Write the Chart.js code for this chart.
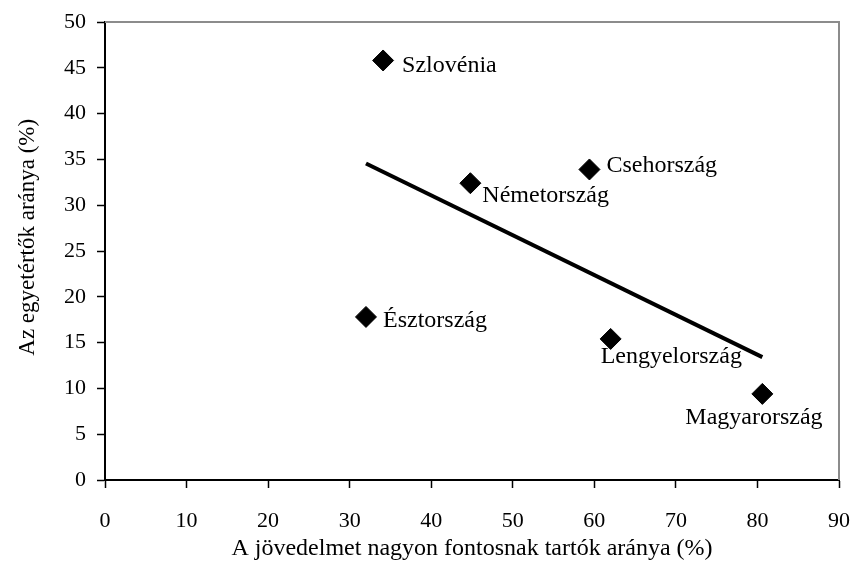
<!DOCTYPE html>
<html>
<head>
<meta charset="utf-8">
<title>Jövedelem és egyetértés</title>
<script src="https://cdn.jsdelivr.net/npm/chart.js@4/dist/chart.umd.min.js"></script>
<style>
  body { margin: 0; background: #fff; }
  #wrap { width: 853px; height: 576px; }
</style>
</head>
<body>
<div id="wrap"><canvas id="scatterChart" width="853" height="576"></canvas></div>
<script>
// Országok és értékek
const orszagok = ["Szlovénia", "Csehország", "Németország", "Észtország", "Lengyelország", "Magyarország"];
const jovedelemFontos = [34.1, 59.4, 44.8, 32.0, 62.0, 80.6];
const egyetertok = [45.8, 33.9, 32.4, 17.8, 15.4, 9.4];

// Tengelycímek
const xCim = "A jövedelmet nagyon fontosnak tartók aránya (%)";
const yCim = "Az egyetértők aránya (%)";

// Címkék eltolása a ponthoz képest (csak stílus)
const cimkeEltolas = [[19, 5], [17, -4], [12, 12], [17, 4], [-10, 18], [-77, 24]];

// Lineáris trendvonal a legkisebb és legnagyobb x között
function trendvonal(xs, ys) {
  const n = xs.length;
  const mx = xs.reduce((a, b) => a + b, 0) / n;
  const my = ys.reduce((a, b) => a + b, 0) / n;
  let sxy = 0, sxx = 0;
  for (let i = 0; i < n; i++) {
    sxy += (xs[i] - mx) * (ys[i] - my);
    sxx += (xs[i] - mx) * (xs[i] - mx);
  }
  const m = sxy / sxx;
  const b = my - m * mx;
  const x0 = Math.min(...xs), x1 = Math.max(...xs);
  return [{ x: x0, y: m * x0 + b }, { x: x1, y: m * x1 + b }];
}

const csalad = "'Liberation Serif', 'Times New Roman', serif";
const betu = { family: csalad, size: 24 };
const tickBetu = { family: csalad, size: 22 };

// Keret a rajzterület tetején és jobb oldalán
const keretPlugin = {
  id: "keret",
  beforeDatasetsDraw(chart) {
    const { ctx, chartArea: a } = chart;
    ctx.save();
    ctx.strokeStyle = "#8c8c8c";
    ctx.lineWidth = 2;
    ctx.beginPath();
    ctx.moveTo(a.left, a.top);
    ctx.lineTo(a.right, a.top);
    ctx.lineTo(a.right, a.bottom);
    ctx.stroke();
    ctx.restore();
  },
};

// Országnevek a pontok mellé, függőleges tengelycím
const cimkePlugin = {
  id: "cimkek",
  afterDatasetsDraw(chart) {
    const { ctx } = chart;
    const meta = chart.getDatasetMeta(0);
    ctx.save();
    ctx.font = betu.size + "px " + betu.family;
    ctx.fillStyle = "#000";
    ctx.textAlign = "left";
    ctx.textBaseline = "middle";
    meta.data.forEach((pont, i) => {
      const [dx, dy] = cimkeEltolas[i];
      ctx.fillText(orszagok[i], pont.x + dx, pont.y + dy);
    });
    // y tengely címe (kicsit a közép fölött, mint az eredetin)
    ctx.font = "23px " + csalad;
    ctx.textAlign = "center";
    ctx.translate(28, chart.chartArea.top + (chart.chartArea.bottom - chart.chartArea.top) * 0.47);
    ctx.rotate(-Math.PI / 2);
    ctx.fillText(yCim, 0, 0);
    ctx.restore();
  },
};

const ctx = document.getElementById("scatterChart").getContext("2d");

const chart = new Chart(ctx, {
  type: "scatter",
  data: {
    datasets: [
      {
        label: "Országok",
        data: jovedelemFontos.map((x, i) => ({ x: x, y: egyetertok[i] })),
        pointStyle: "rectRot",
        pointRadius: 10.5,
        backgroundColor: "#000",
        borderColor: "#000",
        borderWidth: 1,
      },
      {
        label: "Trend",
        data: trendvonal(jovedelemFontos, egyetertok),
        showLine: true,
        borderColor: "#000",
        borderWidth: 4,
        pointRadius: 0,
      },
    ],
  },
  options: {
    responsive: false,
    animation: false,
    layout: { padding: { top: 22, right: 14, left: 0, bottom: 0 } },
    plugins: {
      legend: { display: false },
      tooltip: { enabled: false },
    },
    scales: {
      x: {
        type: "linear",
        min: 0,
        max: 90,
        ticks: { stepSize: 10, color: "#000", font: tickBetu, padding: 20, maxRotation: 0 },
        grid: { drawOnChartArea: false, drawTicks: true, tickLength: 8, color: "#000", tickWidth: 1.5 },
        border: { display: true, color: "#000", width: 2 },
        title: {
          display: true,
          text: xCim,
          color: "#000",
          font: betu,
          padding: { top: 0, bottom: 13 },
        },
        afterFit(scale) {
          scale.height = 96;
          scale.paddingLeft = 0;
          scale.paddingRight = 0;
        },
      },
      y: {
        min: 0,
        max: 50,
        ticks: { stepSize: 5, color: "#000", font: tickBetu, padding: 11 },
        grid: { drawOnChartArea: false, drawTicks: true, tickLength: 8, color: "#000", tickWidth: 1.5 },
        border: { display: true, color: "#000", width: 2 },
        afterFit(scale) {
          scale.width = 105;
          scale.paddingTop = 0;
          scale.paddingBottom = 0;
        },
      },
    },
  },
  plugins: [keretPlugin, cimkePlugin],
});
</script>
</body>
</html>
